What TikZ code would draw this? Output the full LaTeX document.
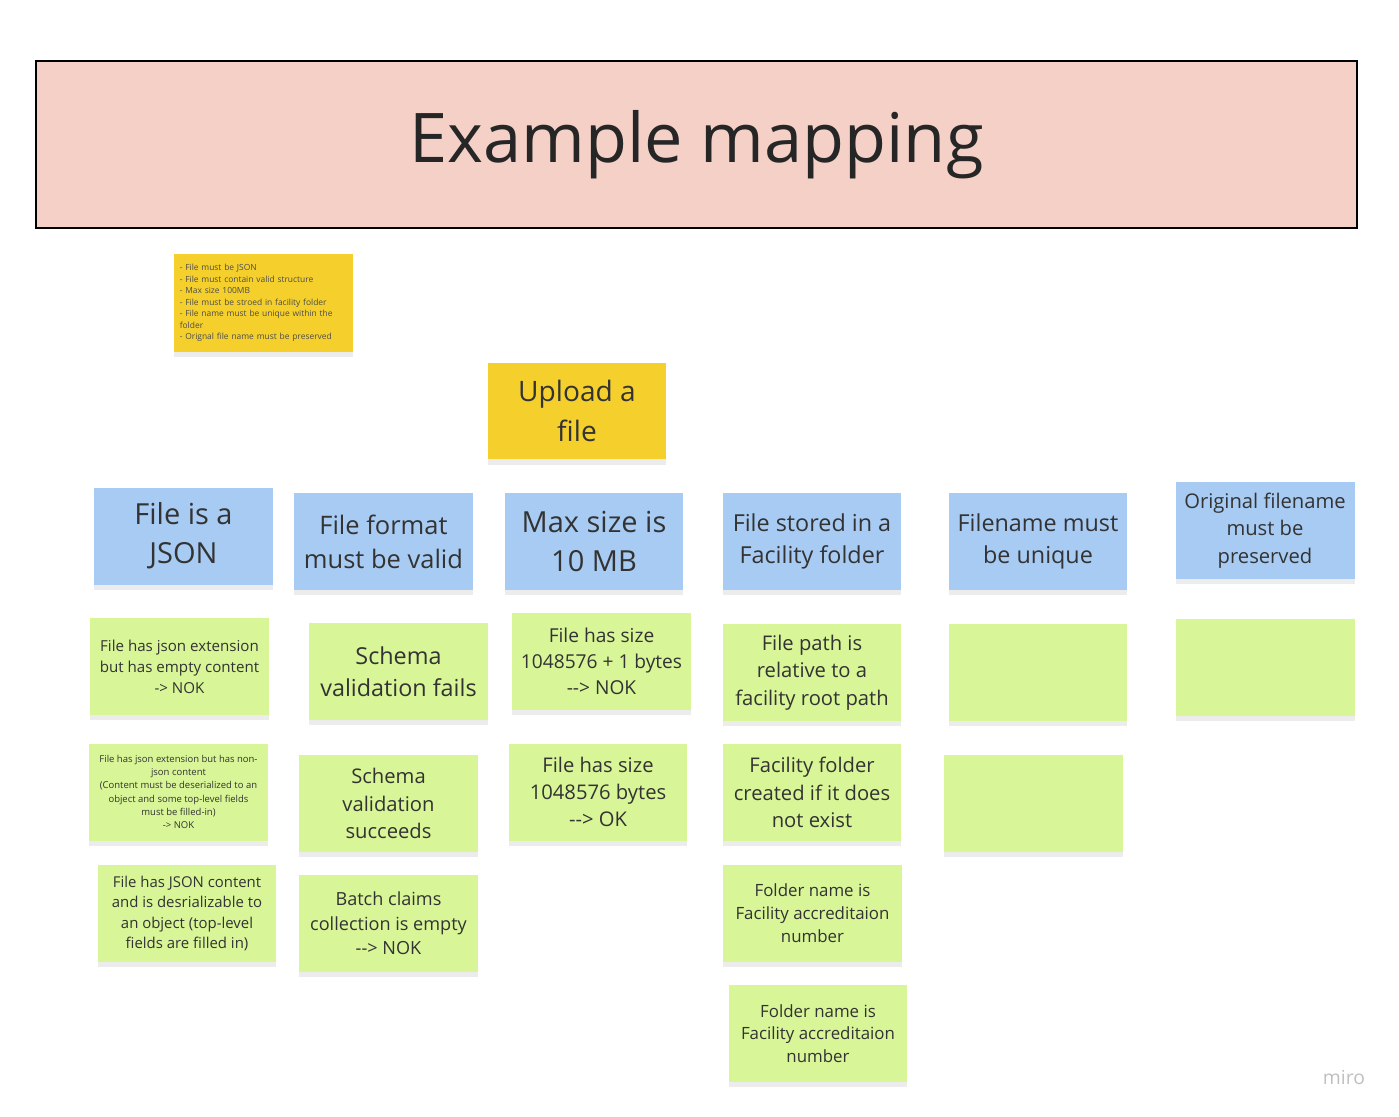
\documentclass[tikz,border=0pt]{standalone}
\usepackage{fontspec}
\setmainfont{Open Sans}
\usetikzlibrary{shadows}

\definecolor{titlepink}{HTML}{F4D0C7}
\definecolor{notey}{HTML}{F5D02C}
\definecolor{noteb}{HTML}{A7CBF3}
\definecolor{noteg}{HTML}{D8F597}
\definecolor{notetxt}{HTML}{333333}

\tikzset{
  note/.style={inner sep=2pt, align=center, text=notetxt, minimum width=3.58cm, minimum height=1.94cm,
    drop shadow={opacity=0.15, shadow xshift=0pt, shadow yshift=-3pt}},
  yellownote/.style={note, fill=notey},
  bluenote/.style={note, fill=noteb},
  greennote/.style={note, fill=noteg},
  fs/.style 2 args={font=\fontsize{#1}{#2}\selectfont},
}

\begin{document}
\begin{tikzpicture}[x=0.02cm, y=-0.02cm]

\useasboundingbox (0,0) rectangle (1399,1116);

\node[draw=black, line width=1pt, fill=titlepink, minimum width=26.42cm, minimum height=3.34cm,
  fs={39}{48}, text=black!85] (title) at (696.5,144.5) {Example mapping};

% rules
\node[yellownote, fs={4.8}{6.6}, align=left, text width=3.35cm, minimum height=1.96cm, text=black!70] (rules) at (263.5,303) {%
- File must be JSON\\
- File must contain valid structure\\
- Max size 100MB\\
- File must be stroed in facility folder\\
- File name must be unique within the\\ folder\\
- Orignal file name must be preserved};

% story
\node[yellownote, fs={16}{23}] (story) at (577,411) {Upload a\\ file};

% rules row
\node[bluenote, fs={16.5}{22}] (json) at (183.5,536) {File is a\\ JSON};
\node[bluenote, fs={14.5}{19.5}] (format) at (383.5,541.5) {File format\\ must be valid};
\node[bluenote, fs={16.5}{22}] (size) at (594,541.5) {Max size is\\ 10 MB};
\node[bluenote, fs={13.3}{18}] (stored) at (812,541.5) {File stored in a\\ Facility folder};
\node[bluenote, fs={13.3}{18}] (unique) at (1038,541.5) {Filename must\\ be unique};
\node[bluenote, fs={11.5}{15.6}] (orig) at (1265,530.5) {Original filename\\ must be\\ preserved};

% examples: json
\node[greennote, fs={8.6}{11.9}] (json1) at (179.5,666.5) {File has json extension\\ but has empty content\\ -> NOK};
\node[greennote, fs={5.4}{7.5}] (json2) at (178.5,792) {File has json extension but has non-\\ json content\\ (Content must be deserialized to an\\ object and some top-level fields\\ must be filled-in)\\ -> NOK};
\node[greennote, fs={8.5}{11.7}] (json3) at (187,913.5) {File has JSON content\\ and is desrializable to\\ an object (top-level\\ fields are filled in)};

% examples: format
\node[greennote, fs={13.3}{18}] (format1) at (398.5,671.5) {Schema\\ validation fails};
\node[greennote, fs={11.5}{15.6}] (format2) at (388.5,803.5) {Schema\\ validation\\ succeeds};
\node[greennote, fs={10.3}{13.9}] (format3) at (388.5,923.5) {Batch claims\\ collection is empty\\ -{}-> NOK};

% examples: size
\node[greennote, fs={10.9}{14.7}] (size1) at (601.5,661) {File has size\\ 1048576 + 1 bytes\\ -{}-> NOK};
\node[greennote, fs={11.5}{15.6}] (size2) at (598,792) {File has size\\ 1048576 bytes\\ -{}-> OK};

% examples: stored
\node[greennote, fs={11.5}{15.6}] (stored1) at (812,672.5) {File path is\\ relative to a\\ facility root path};
\node[greennote, fs={11.5}{15.6}] (stored2) at (812,792.5) {Facility folder\\ created if it does\\ not exist};
\node[greennote, fs={9.6}{13}] (stored3) at (812.5,913.5) {Folder name is\\ Facility accreditaion\\ number};
\node[greennote, fs={9.6}{13}] (stored4) at (818,1033.5) {Folder name is\\ Facility accreditaion\\ number};

% examples: empty
\node[greennote] (unique1) at (1038,672.5) {};
\node[greennote] (unique2) at (1033.5,803.5) {};
\node[greennote] (orig1) at (1265,667) {};

\node[text=black!25, fs={11}{13}] (miro) at (1344,1077) {miro};

\end{tikzpicture}
\end{document}
